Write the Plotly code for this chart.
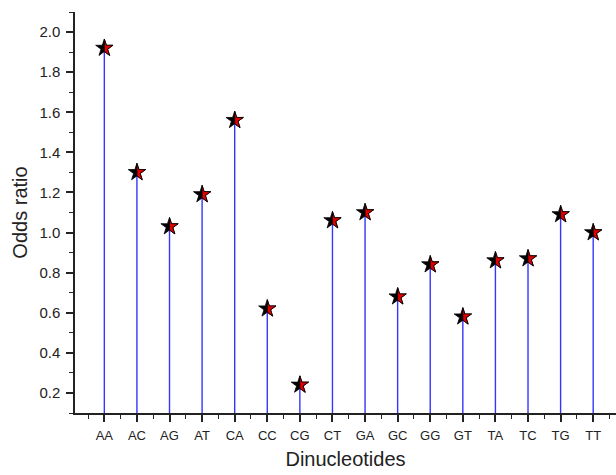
import plotly.graph_objects as go

categories = ["AA", "AC", "AG", "AT", "CA", "CC", "CG", "CT",
              "GA", "GC", "GG", "GT", "TA", "TC", "TG", "TT"]
odds_ratio = [1.92, 1.30, 1.03, 1.19, 1.56, 0.62, 0.24, 1.06,
              1.10, 0.68, 0.84, 0.58, 0.86, 0.87, 1.09, 1.00]

y_min, y_max = 0.1, 2.1
xpos = list(range(len(categories)))

STAR_SIZE = 13
fig = go.Figure()
fig.add_trace(go.Scatter(
    x=xpos, y=odds_ratio, mode="markers",
    marker=dict(symbol="star", size=STAR_SIZE, color="black",
                line=dict(color="black", width=0.8)),
    error_y=dict(type="data", symmetric=False, array=[0] * len(odds_ratio),
                 arrayminus=[v - y_min for v in odds_ratio],
                 color="#3535ff", thickness=1.4, width=0),
    showlegend=False, hoverinfo="skip"))

# red right half of each star marker (glyph geometry in pixels, anchored at the data point)
rs = 0.7 * STAR_SIZE
half = [(0, rs), (0.225 * rs, 0.309 * rs), (0.951 * rs, 0.309 * rs),
        (0.363 * rs, -0.118 * rs), (0.588 * rs, -0.809 * rs), (0, -0.382 * rs)]
half_path = "M" + " L".join(f"{px:.2f},{py:.2f}" for px, py in half) + " Z"
for p, v in zip(xpos, odds_ratio):
    fig.add_shape(type="path", xref="x", yref="y",
                  xsizemode="pixel", ysizemode="pixel",
                  xanchor=p, yanchor=v, path=half_path,
                  fillcolor="#e00000", line=dict(color="black", width=0.8),
                  layer="above")

fig.update_layout(
    width=616, height=475,
    margin=dict(l=75, r=0, t=12, b=62),
    paper_bgcolor="white", plot_bgcolor="white",
    font=dict(family="Liberation Sans, Arial, sans-serif", color="#222"),
    xaxis=dict(
        range=[-0.9, 15.7], tickvals=xpos, ticktext=categories,
        showgrid=False, zeroline=False,
        showline=True, linecolor="#222", linewidth=1.5,
        ticks="outside", ticklen=7, tickwidth=1.5, tickcolor="#222",
        ticklabelstandoff=3,
        tickfont=dict(size=13, color="#222"),
        minor=dict(tick0=0.5, dtick=1, ticks="outside", ticklen=4,
                   tickwidth=1.2, tickcolor="#222"),
        title=dict(text="Dinucleotides", font=dict(size=20, color="#222"),
                   standoff=10),
    ),
    yaxis=dict(
        range=[y_min, y_max], tickvals=[0.2, 0.4, 0.6, 0.8, 1.0, 1.2, 1.4, 1.6, 1.8, 2.0],
        ticktext=["0.2", "0.4", "0.6", "0.8", "1.0", "1.2", "1.4", "1.6", "1.8", "2.0"],
        showgrid=False, zeroline=False,
        showline=True, linecolor="#222", linewidth=1.5,
        ticks="outside", ticklen=7, tickwidth=1.5, tickcolor="#222",
        ticklabelstandoff=3,
        tickfont=dict(size=15, color="#222"),
        minor=dict(tick0=0.1, dtick=0.2, ticks="outside", ticklen=4,
                   tickwidth=1.2, tickcolor="#222"),
        title=dict(text="Odds ratio", font=dict(size=20, color="#222"),
                   standoff=6),
    ),
)
fig.write_html("out.html")
